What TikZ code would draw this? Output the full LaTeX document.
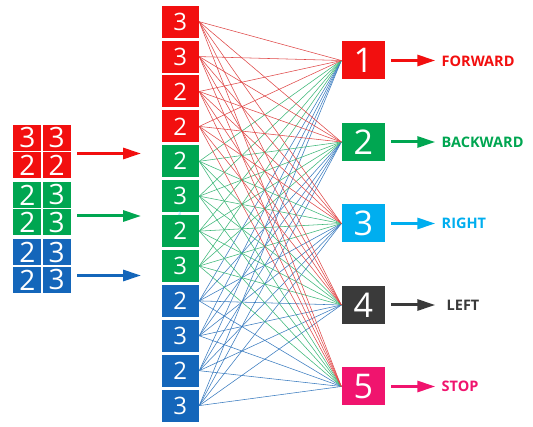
\documentclass[tikz,border=0pt]{standalone}
\usepackage{fontspec}
\setmainfont{Open Sans}
\usetikzlibrary{arrows.meta}
\definecolor{cred}{HTML}{F20F0F}
\definecolor{cgreen}{HTML}{00A651}
\definecolor{cblue}{HTML}{1466BA}
\definecolor{ccyan}{HTML}{00AEEF}
\definecolor{cdark}{HTML}{3A3A3A}
\definecolor{cpink}{HTML}{F0146E}
\definecolor{lred}{HTML}{E04848}
\definecolor{lgreen}{HTML}{3CB878}
\definecolor{lblue}{HTML}{3A7CC0}
\tikzset{
  midbox/.style={minimum width=37.5pt, minimum height=32pt, inner sep=0pt, text=white, font=\fontsize{24}{24}\selectfont},
  outbox/.style={minimum width=43.5pt, minimum height=38pt, inner sep=0pt, text=white, font=\fontsize{34}{34}\selectfont},
  cell/.style={minimum width=28pt, minimum height=26pt, inner sep=0pt, text=white, font=\fontsize{28}{28}\selectfont},
  conn/.style={line width=0.55pt},
  arr/.style={line width=3pt, -{Triangle[length=18pt,width=11pt]}},
  lab/.style={anchor=west, inner sep=0pt, font=\fontsize{14.5}{15}\selectfont\bfseries}
}
\begin{document}
\begin{tikzpicture}[x=1pt,y=-1pt]
\useasboundingbox (0,0) rectangle (533,427);
\fill[white] (0,0) rectangle (533,427);
% middle column
\foreach \i/\d/\c in {1/3/cred,2/3/cred,3/2/cred,4/2/cred,5/2/cgreen,6/3/cgreen,7/2/cgreen,8/3/cgreen,9/2/cblue,10/3/cblue,11/2/cblue,12/3/cblue}{
  \node[midbox, fill=\c] (m\i) at (180.3, {21.7+34.9*(\i-1)}) {\d};
}
% output boxes
\node[outbox, fill=cred]   (r1) at (363.3, 60.5) {1};
\node[outbox, fill=cgreen] (r2) at (363.3, 142) {2};
\node[outbox, fill=ccyan]  (r3) at (363.3, 223.5) {3};
\node[outbox, fill=cdark]  (r4) at (363.3, 305) {4};
\node[outbox, fill=cpink]  (r5) at (363.3, 386.5) {5};
% connections
\foreach \i in {9,...,12}{\foreach \j in {1,...,5}{\draw[conn, lblue] (m\i.east) -- (r\j.west);}}
\foreach \i in {5,...,8}{\foreach \j in {1,...,5}{\draw[conn, lgreen] (m\i.east) -- (r\j.west);}}
\foreach \i in {1,...,4}{\foreach \j in {1,...,5}{\draw[conn, lred] (m\i.east) -- (r\j.west);}}
% tiny artifact text
\node[inner sep=0pt, text=ccyan!70, font=\fontsize{5}{5}\selectfont] (art) at (179.5, 214) {3};
% left grid
\foreach \r/\y/\a/\b/\c in {1/138/3/3/cred, 2/165.5/2/2/cred, 3/195/2/3/cgreen, 4/222.5/2/3/cgreen, 5/252.5/2/3/cblue, 6/280/2/3/cblue}{
  \node[cell, fill=\c] (l\r a) at (27.4, \y) {\a};
  \node[cell, fill=\c] (l\r b) at (56.7, \y) {\b};
}
% left arrows
\coordinate (la1) at (77,153.5); \coordinate (lb1) at (141,153.5);
\coordinate (la2) at (77,216);   \coordinate (lb2) at (141,216);
\coordinate (la3) at (77,275.5); \coordinate (lb3) at (141,275.5);
\draw[arr, cred]   (la1) -- (lb1);
\draw[arr, cgreen] (la2) -- (lb2);
\draw[arr, cblue]  (la3) -- (lb3);
% right arrows and labels
\foreach \j/\c in {1/cred,2/cgreen,3/ccyan,4/cdark,5/cpink}{
  \draw[arr, \c] ([xshift=6pt]r\j.east) -- ([xshift=50pt]r\j.east);
}
\node[lab, text=cred]   (t1) at (441.5, 61) {FORWARD};
\node[lab, text=cgreen] (t2) at (441.5, 142) {BACKWARD};
\node[lab, text=ccyan]  (t3) at (441.5, 223.5) {RIGHT};
\node[lab, text=cdark]  (t4) at (446.5, 305) {LEFT};
\node[lab, text=cpink]  (t5) at (441.5, 386.5) {STOP};
\end{tikzpicture}
\end{document}
